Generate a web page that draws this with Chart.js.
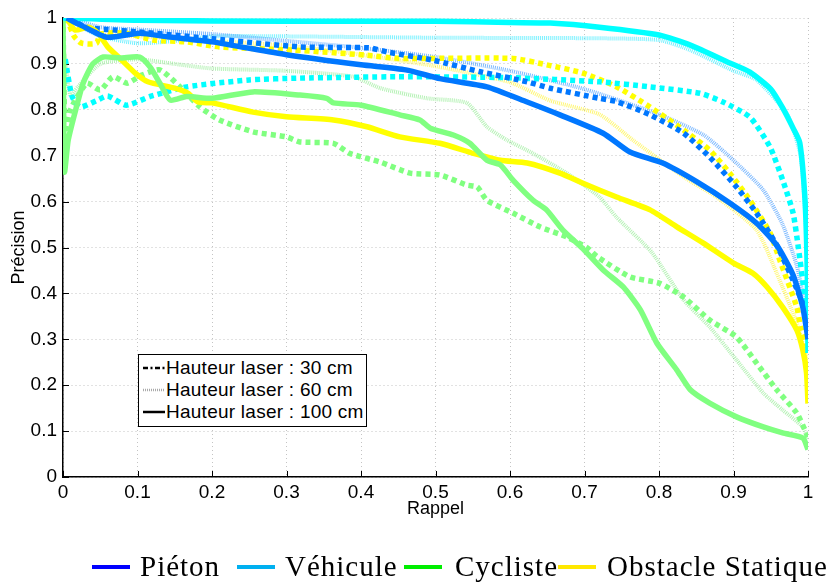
<!DOCTYPE html>
<html>
<head>
<meta charset="utf-8">
<script src="https://cdn.jsdelivr.net/npm/chart.js@4/dist/chart.umd.min.js"></script>
<style>
  html, body { margin: 0; padding: 0; background: #fff; }
  #wrap { position: relative; width: 833px; height: 583px; overflow: hidden; }
  #box {
    position: absolute; left: 138px; top: 354px; width: 227px; height: 71px;
    border: 1.5px solid #000; background: #fff;
    font: 19px "Liberation Sans", Arial, sans-serif; letter-spacing: 0.25px; color: #000;
  }
  #box .row { position: absolute; left: 0; height: 22px; line-height: 22px; white-space: nowrap; }
  #box svg { position: absolute; left: 4px; top: 6px; }
  #box span { position: absolute; left: 27px; }
  #legend { position: absolute; left: 0; top: 548px; width: 833px; height: 35px;
    font: 29px "Liberation Serif", "Times New Roman", serif; letter-spacing: 1px; color: #000; }
  #legend .sw { position: absolute; top: 17px; height: 4px; width: 38px; }
  #legend .tx { position: absolute; top: 0; line-height: 36px; white-space: nowrap; }
</style>
</head>
<body>
<div id="wrap">
  <canvas id="chart" width="833" height="583"></canvas>
  <div id="box">
    <div class="row" style="top:2px"><svg width="22" height="10"><line x1="0" y1="5" x2="22" y2="5" stroke="#000" stroke-width="2.5" stroke-dasharray="5,2.5,2,2.5"/></svg><span>Hauteur laser : 30 cm</span></div>
    <div class="row" style="top:24px"><svg width="22" height="10"><line x1="0" y1="5" x2="22" y2="5" stroke="#aaa" stroke-width="2.5" stroke-dasharray="1,1"/></svg><span>Hauteur laser : 60 cm</span></div>
    <div class="row" style="top:46px"><svg width="22" height="10"><line x1="0" y1="5" x2="22" y2="5" stroke="#000" stroke-width="2.5"/></svg><span>Hauteur laser : 100 cm</span></div>
  </div>
  <div id="legend"></div>
</div>
<script>
// Courbes précision / rappel : [rappel, précision]
const classes = ['Piéton', 'Véhicule', 'Cycliste', 'Obstacle Statique'];
const heights = ['Hauteur laser : 30 cm', 'Hauteur laser : 60 cm', 'Hauteur laser : 100 cm'];

const pieton30 = [[0.01,1.0],[0.03,0.98],[0.06,0.975],[0.1,0.97],[0.2,0.955],[0.318,0.937],[0.41,0.935],[0.435,0.926],[0.497,0.908],[0.56,0.883],[0.623,0.861],[0.654,0.847],[0.72,0.825],[0.743,0.818],[0.788,0.789],[0.833,0.749],[0.868,0.697],[0.904,0.632],[0.931,0.575],[0.958,0.505],[0.985,0.41],[1.0,0.35]];
const pieton60 = [[0.01,1.0],[0.05,0.98],[0.1,0.975],[0.2,0.965],[0.3,0.95],[0.4,0.935],[0.5,0.915],[0.6,0.885],[0.7,0.845],[0.8,0.79],[0.86,0.745],[0.9,0.69],[0.94,0.625],[0.966,0.55],[0.985,0.46],[0.995,0.38],[1.0,0.33]];
const pieton100 = [[0.005,1.0],[0.023,0.985],[0.059,0.958],[0.103,0.967],[0.14,0.959],[0.2,0.948],[0.3,0.92],[0.4,0.898],[0.46,0.887],[0.506,0.868],[0.569,0.85],[0.623,0.817],[0.667,0.789],[0.725,0.749],[0.761,0.708],[0.805,0.684],[0.851,0.643],[0.895,0.597],[0.931,0.553],[0.958,0.505],[0.98,0.44],[0.993,0.37],[1.0,0.3]];

const vehicule30 = [[0.003,0.91],[0.012,0.83],[0.023,0.806],[0.045,0.82],[0.06,0.83],[0.085,0.81],[0.117,0.829],[0.166,0.85],[0.25,0.865],[0.318,0.869],[0.45,0.872],[0.6,0.87],[0.72,0.861],[0.788,0.85],[0.855,0.836],[0.886,0.817],[0.922,0.784],[0.949,0.719],[0.966,0.647],[0.98,0.575],[0.987,0.5],[0.995,0.4],[1.0,0.3]];
const vehicule60 = [[0,1.0],[0.02,0.985],[0.05,0.96],[0.1,0.945],[0.15,0.95],[0.2,0.96],[0.3,0.96],[0.5,0.957],[0.7,0.956],[0.8,0.952],[0.842,0.93],[0.9,0.885],[0.931,0.865],[0.972,0.79],[0.99,0.7],[0.997,0.55],[1.0,0.32]];
const vehicule100 = [[0,1.0],[0.1,0.995],[0.3,0.993],[0.5,0.993],[0.6,0.99],[0.654,0.989],[0.72,0.98],[0.8,0.963],[0.842,0.941],[0.895,0.902],[0.922,0.882],[0.95,0.845],[0.966,0.804],[0.98,0.76],[0.989,0.728],[0.996,0.603],[0.999,0.45],[1.0,0.27]];

const cycliste30 = [[0,1.0],[0.003,0.75],[0.01,0.8],[0.032,0.858],[0.05,0.843],[0.067,0.872],[0.086,0.858],[0.105,0.875],[0.13,0.887],[0.157,0.85],[0.184,0.806],[0.21,0.778],[0.255,0.752],[0.3,0.741],[0.318,0.73],[0.363,0.727],[0.385,0.705],[0.426,0.686],[0.466,0.662],[0.506,0.658],[0.542,0.636],[0.556,0.632],[0.569,0.603],[0.604,0.575],[0.64,0.545],[0.676,0.523],[0.703,0.5],[0.717,0.48],[0.761,0.436],[0.801,0.422],[0.833,0.392],[0.868,0.342],[0.904,0.305],[0.931,0.248],[0.958,0.19],[0.985,0.139],[1.0,0.087]];
const cycliste60 = [[0,0.95],[0.01,0.83],[0.02,0.85],[0.05,0.9],[0.1,0.91],[0.15,0.9],[0.2,0.89],[0.3,0.885],[0.39,0.872],[0.426,0.847],[0.489,0.825],[0.542,0.815],[0.569,0.763],[0.596,0.734],[0.631,0.705],[0.676,0.662],[0.72,0.61],[0.743,0.566],[0.79,0.49],[0.833,0.386],[0.868,0.327],[0.904,0.255],[0.94,0.183],[0.966,0.146],[0.993,0.109],[1.0,0.08]];
const cycliste100 = [[0,1.0],[0.002,0.665],[0.007,0.734],[0.018,0.806],[0.027,0.858],[0.04,0.9],[0.054,0.915],[0.077,0.913],[0.103,0.915],[0.117,0.893],[0.13,0.858],[0.144,0.821],[0.166,0.829],[0.2,0.825],[0.255,0.839],[0.318,0.832],[0.354,0.825],[0.363,0.815],[0.4,0.81],[0.452,0.789],[0.479,0.778],[0.493,0.76],[0.524,0.745],[0.546,0.727],[0.569,0.69],[0.587,0.68],[0.604,0.647],[0.631,0.603],[0.649,0.582],[0.671,0.538],[0.698,0.497],[0.725,0.451],[0.752,0.414],[0.775,0.364],[0.797,0.292],[0.824,0.233],[0.842,0.19],[0.868,0.161],[0.904,0.131],[0.94,0.109],[0.966,0.096],[0.993,0.085],[1.0,0.06]];

const obstacle30 = [[0.005,1.0],[0.015,0.96],[0.025,0.945],[0.045,0.945],[0.05,0.965],[0.085,0.967],[0.121,0.952],[0.166,0.948],[0.21,0.937],[0.31,0.93],[0.408,0.919],[0.452,0.912],[0.604,0.912],[0.649,0.898],[0.698,0.88],[0.743,0.85],[0.788,0.806],[0.833,0.756],[0.868,0.712],[0.895,0.662],[0.922,0.603],[0.949,0.532],[0.962,0.473],[0.985,0.37],[0.99,0.327],[1.0,0.28]];
const obstacle60 = [[0.005,1.0],[0.05,0.965],[0.1,0.96],[0.2,0.95],[0.3,0.94],[0.4,0.92],[0.5,0.895],[0.6,0.86],[0.654,0.82],[0.72,0.79],[0.765,0.734],[0.833,0.654],[0.877,0.61],[0.931,0.538],[0.958,0.444],[0.985,0.335],[1.0,0.25]];
const obstacle100 = [[0.005,1.0],[0.016,0.974],[0.034,0.98],[0.047,0.967],[0.06,0.937],[0.079,0.908],[0.097,0.88],[0.114,0.861],[0.15,0.847],[0.168,0.836],[0.181,0.817],[0.2,0.815],[0.255,0.795],[0.3,0.785],[0.363,0.778],[0.408,0.763],[0.452,0.741],[0.506,0.727],[0.551,0.705],[0.587,0.69],[0.623,0.684],[0.667,0.662],[0.698,0.64],[0.743,0.61],[0.788,0.582],[0.824,0.545],[0.859,0.51],[0.9,0.466],[0.926,0.444],[0.945,0.414],[0.966,0.37],[0.985,0.32],[0.993,0.277],[0.998,0.227],[1.0,0.16]];

const xTicks = [0, 0.1, 0.2, 0.3, 0.4, 0.5, 0.6, 0.7, 0.8, 0.9, 1];
const yTicks = [0, 0.1, 0.2, 0.3, 0.4, 0.5, 0.6, 0.7, 0.8, 0.9, 1];

const lineColors = ['#0077ff', '#00ffff', '#80ff80', '#ffff00'];
const dotColors = ['rgba(0,119,255,0.5)', 'rgba(0,230,255,0.55)', 'rgba(110,230,110,0.5)', 'rgba(255,240,0,0.55)'];
const legendColors = ['#0000ff', '#00b0f0', '#00ee00', '#ffe800'];

const curves = [
  [pieton30, pieton60, pieton100],
  [vehicule30, vehicule60, vehicule100],
  [cycliste30, cycliste60, cycliste100],
  [obstacle30, obstacle60, obstacle100]
];

const toXY = pts => pts.map(([x, y]) => ({ x, y }));

const datasets = [];
curves.forEach((set, c) => {
  set.forEach((pts, h) => {
    datasets.push({
      label: classes[c] + ' - ' + heights[h],
      data: toXY(pts),
      borderColor: h === 1 ? dotColors[c] : lineColors[c],
      borderWidth: h === 1 ? 4 : 5.5,
      borderDash: h === 0 ? [5, 4] : (h === 1 ? [1, 1] : []),
      borderCapStyle: 'butt',
      borderJoinStyle: 'round',
      pointRadius: 0,
      tension: 0.2,
      fill: false,
      order: h === 2 ? 1 : (h === 0 ? 2 : 3)
    });
  });
});

// petites graduations vers l'intérieur (style matlab)
const innerTicks = {
  id: 'innerTicks',
  beforeDatasetsDraw(chart) {
    const { ctx, chartArea: a, scales: { x, y } } = chart;
    ctx.save();
    ctx.strokeStyle = '#000';
    ctx.lineWidth = 1;
    ctx.beginPath();
    xTicks.forEach(v => {
      const px = Math.round(x.getPixelForValue(v)) + 0.5;
      ctx.moveTo(px, a.bottom); ctx.lineTo(px, a.bottom - 6);
    });
    yTicks.forEach(v => {
      const py = Math.round(y.getPixelForValue(v)) + 0.5;
      ctx.moveTo(a.left, py); ctx.lineTo(a.left + 6, py);
    });
    ctx.stroke();
    ctx.restore();
  }
};

const tickFont = { family: '"Liberation Sans", Arial, sans-serif', size: 19 };
const titleFont = { family: '"Liberation Sans", Arial, sans-serif', size: 18 };

new Chart(document.getElementById('chart'), {
  type: 'line',
  data: { datasets },
  plugins: [innerTicks],
  options: {
    responsive: false,
    animation: false,
    events: [],
    layout: { padding: { left: 0, right: 25, top: 18, bottom: 0 } },
    plugins: { legend: { display: false }, tooltip: { enabled: false } },
    scales: {
      x: {
        type: 'linear', min: 0, max: 1,
        afterFit: s => { s.height = 106; },
        afterBuildTicks: s => { s.ticks = xTicks.map(v => ({ value: v })); },
        ticks: { color: '#000', font: tickFont, padding: 4, maxRotation: 0,
          callback: v => String(+v.toFixed(1)) },
        grid: { color: '#c4c4c4', lineWidth: 1, drawTicks: false },
        border: { display: true, color: '#000', width: 1.5, dash: [1, 3] },
        title: { display: true, text: 'Rappel', color: '#000', font: titleFont, padding: { top: 0, bottom: 63 } }
      },
      y: {
        type: 'linear', min: 0, max: 1,
        afterFit: s => { s.width = 63; },
        afterBuildTicks: s => { s.ticks = yTicks.map(v => ({ value: v })); },
        ticks: { color: '#000', font: tickFont, padding: 6,
          callback: v => String(+v.toFixed(1)) },
        grid: { color: '#c4c4c4', lineWidth: 1, drawTicks: false },
        border: { display: true, color: '#000', width: 1.5, dash: [1, 3] },
        title: { display: true, text: 'Précision', color: '#000', font: titleFont, padding: { top: 8, bottom: 0 } }
      }
    }
  }
});

// légende du bas
const legendPos = [[92, 140], [237, 285], [404, 455], [558, 607]];
const legendEl = document.getElementById('legend');
classes.forEach((name, i) => {
  const sw = document.createElement('div');
  sw.className = 'sw';
  sw.style.left = legendPos[i][0] + 'px';
  sw.style.background = legendColors[i];
  legendEl.appendChild(sw);
  const tx = document.createElement('div');
  tx.className = 'tx';
  tx.style.left = legendPos[i][1] + 'px';
  tx.textContent = name;
  legendEl.appendChild(tx);
});
</script>
</body>
</html>
